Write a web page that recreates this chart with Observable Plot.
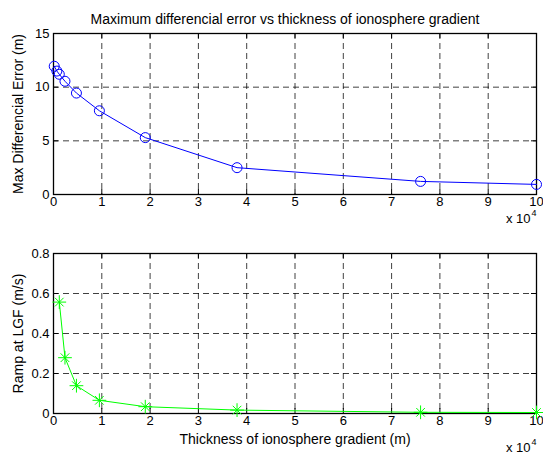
<!DOCTYPE html>
<html>
<head>
<meta charset="utf-8">
<script src="https://cdn.jsdelivr.net/npm/d3@7"></script>
<script src="https://cdn.jsdelivr.net/npm/@observablehq/plot@0.6"></script>
<style>
  html, body { margin: 0; padding: 0; background: #fff; }
  #chart svg { display: block; }
</style>
</head>
<body>
<div id="chart"></div>
<script>
// Thickness of the ionosphere gradient (m) and the resulting errors
const thicknessTop = [150, 700, 1200, 2375, 4750, 9500, 19000, 38000, 76000, 100000];
const maxError = [11.95, 11.5, 11.2, 10.55, 9.45, 7.8, 5.3, 2.5, 1.22, 0.94];

const thicknessBottom = [1200, 2375, 4750, 9500, 19000, 38000, 76000, 100000];
const rampLGF = [0.557, 0.279, 0.139, 0.066, 0.034, 0.017, 0.006, 0.005];

// Axis ticks (x shown in units of 10^4 m)
const xTicks = [0, 1, 2, 3, 4, 5, 6, 7, 8, 9, 10];
const xTickLabels = ["0", "1", "2", "3", "4", "5", "6", "7", "8", "9", "10"];
const yTicksTop = [0, 5, 10, 15];
const yTickLabelsTop = ["0", "5", "10", "15"];
const yTicksBottom = [0, 0.2, 0.4, 0.6, 0.8];
const yTickLabelsBottom = ["0", "0.2", "0.4", "0.6", "0.8"];

const titleText = "Maximum differencial error vs thickness of ionosphere gradient";
const yLabelTop = "Max Differencial Error (m)";
const yLabelBottom = "Ramp at LGF (m/s)";
const xLabelBottom = "Thickness of ionosphere gradient (m)";

const topData = thicknessTop.map((t, i) => ({x: t / 1e4, y: maxError[i]}));
const bottomData = thicknessBottom.map((t, i) => ({x: t / 1e4, y: rampLGF[i]}));

const W = 543;
const mL = 53, mR = 7;
const frameW = W - mL - mR;
const font = "'Liberation Sans', Arial, sans-serif";
const tickFS = 13;   // tick labels
const labelFS = 14;  // title and axis titles

// MATLAB-style panel: boxed frame, dashed grid, inward ticks on all sides
function panel({data, height, marginTop, marginBottom, yDomain, yTicks, yLabels, yTitle,
                color, markers, expDy, extra = []}) {
  const frameH = height - marginTop - marginBottom;
  const gridStyle = {stroke: "#000", strokeOpacity: 0.75, strokeDasharray: "6,4", strokeWidth: 1};
  const tickLen = 5;
  const tickTxt = {fill: "#000", fontSize: tickFS};
  return Plot.plot({
    width: W, height, marginTop, marginBottom, marginLeft: mL, marginRight: mR,
    x: {domain: [0, 10], axis: null},
    y: {domain: yDomain, axis: null},
    style: {fontFamily: font, fontSize: tickFS + "px", background: "#fff", overflow: "visible", color: "#000"},
    marks: [
      Plot.ruleX(xTicks.slice(1, -1), gridStyle),
      Plot.ruleY(yTicks.slice(1, -1), gridStyle),
      Plot.ruleX(xTicks, {stroke: "#000", insetTop: frameH - tickLen}),
      Plot.ruleX(xTicks, {stroke: "#000", insetBottom: frameH - tickLen}),
      Plot.ruleY(yTicks, {stroke: "#000", insetRight: frameW - tickLen}),
      Plot.ruleY(yTicks, {stroke: "#000", insetLeft: frameW - tickLen}),
      Plot.frame({stroke: "#000", strokeWidth: 1.3}),
      Plot.text(xTicks, {x: d => d, text: (d, i) => xTickLabels[i], frameAnchor: "bottom", textAnchor: "middle", dy: 11, ...tickTxt}),
      Plot.text(yTicks, {y: d => d, text: (d, i) => yLabels[i], frameAnchor: "left", dx: -4, textAnchor: "end", ...tickTxt}),
      Plot.text([yTitle], {text: d => d, frameAnchor: "left", textAnchor: "middle", dx: -35, rotate: -90, fill: "#000", fontSize: labelFS}),
      Plot.line(data, {x: "x", y: "y", stroke: color, strokeWidth: 1}),
      ...markers.map(m => Plot.dot(data, {x: "x", y: "y", stroke: color, fill: "none", strokeWidth: 1, ...m})),
      Plot.text(["x 10"], {text: d => d, frameAnchor: "bottom-right", dy: expDy, dx: -6, textAnchor: "end", ...tickTxt}),
      Plot.text(["4"], {text: d => d, frameAnchor: "bottom-right", dy: expDy - 7, dx: -5, textAnchor: "start", fill: "#000", fontSize: 9}),
      ...extra
    ]
  });
}

const topPanel = panel({
  data: topData, height: 228, marginTop: 33, marginBottom: 34,
  yDomain: [0, 15], yTicks: yTicksTop, yLabels: yTickLabelsTop, yTitle: yLabelTop,
  color: "#0000ff", markers: [{r: 5, symbol: "circle"}], expDy: 28,
  extra: [Plot.text([titleText], {text: d => d, frameAnchor: "top", textAnchor: "middle", dy: -19, dx: -10, fill: "#000", fontSize: labelFS})]
});

const bottomPanel = panel({
  data: bottomData, height: 229, marginTop: 25, marginBottom: 44,
  yDomain: [0, 0.8], yTicks: yTicksBottom, yLabels: yTickLabelsBottom, yTitle: yLabelBottom,
  color: "#00ff00", markers: [{r: 4.5, symbol: "plus"}, {r: 4, symbol: "times"}], expDy: 38,
  extra: [Plot.text([xLabelBottom], {text: d => d, frameAnchor: "bottom", textAnchor: "middle", dy: 30, fill: "#000", fontSize: labelFS})]
});

const chart = document.getElementById("chart");
chart.appendChild(topPanel);
chart.appendChild(bottomPanel);
</script>
</body>
</html>
